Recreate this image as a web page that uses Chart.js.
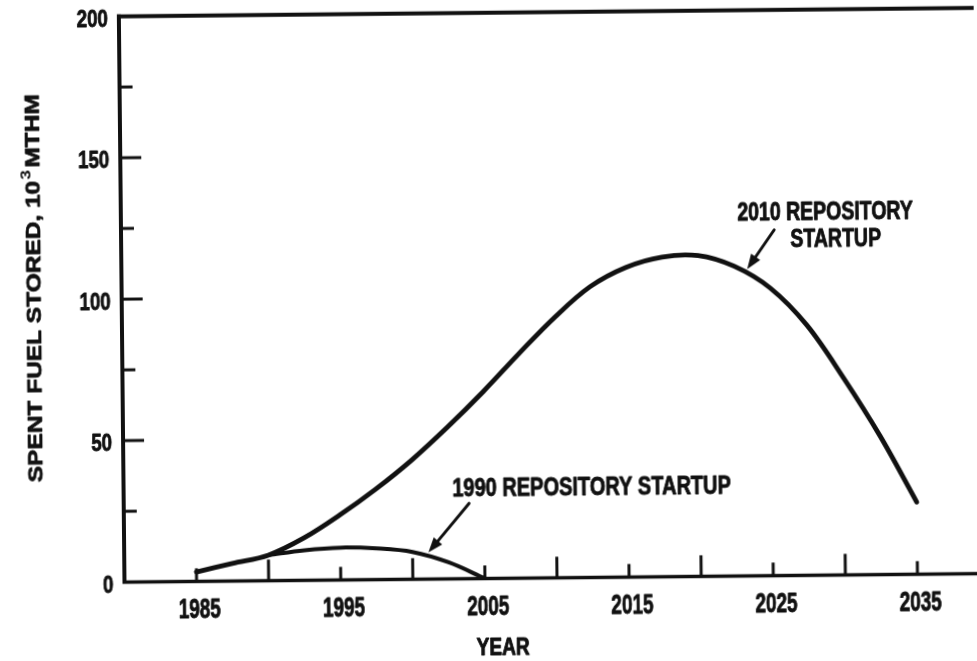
<!DOCTYPE html>
<html>
<head>
<meta charset="utf-8">
<title>Spent fuel stored</title>
<script src="https://cdn.jsdelivr.net/npm/chart.js@4.4.1/dist/chart.umd.min.js"></script>
<style>
  html, body { margin: 0; padding: 0; background: #fff; overflow: hidden; }
  #wrap {
    position: absolute; left: 0; top: 0; width: 977px; height: 661px;
    transform: rotate(-0.57deg); transform-origin: 50% 50%;
  }
  canvas { display: block; }
</style>
</head>
<body>
<div id="wrap"><canvas id="chart" width="977" height="661"></canvas></div>
<script>
// Spent fuel in storage (10^3 MTHM) by year, for two repository startup dates
const years2010 = [1985, 1987.5, 1990, 1992.5, 1995, 1997.5, 2000, 2002.5, 2005, 2007.5,
                   2010, 2012.5, 2015, 2017.5, 2020, 2022.5, 2025, 2027.5, 2030, 2032.5, 2035];
const stored2010 = [3.3, 6.2, 9.0, 15.0, 23.0, 32.0, 42.1, 53.6, 66.0, 79.3,
                    92.0, 102.8, 109.5, 113.0, 113.4, 109.5, 101.6, 88.4, 69.7, 49.0, 25.5];

const years1990 = [1990, 1992.5, 1995, 1997.5, 2000, 2002.5, 2005];
const stored1990 = [9.0, 10.6, 11.4, 11.0, 9.6, 5.8, 0];

// Axis ticks and labels
const xTickYears = [1985, 1990, 1995, 2000, 2005, 2010, 2015, 2020, 2025, 2030, 2035];
const xLabelYears = [1985, 1995, 2005, 2015, 2025, 2035];
const yTickValues = [25, 50, 75, 100, 125, 150, 175];
const yLabelValues = [0, 50, 100, 150, 200];

const xTitle = 'YEAR';
const yTitleMain = 'SPENT FUEL STORED, 10';
const yTitleSup = '3';
const yTitleUnit = 'MTHM';
const note1990 = '1990 REPOSITORY STARTUP';
const note2010 = ['2010 REPOSITORY', 'STARTUP'];

const INK = '#111';
const FAMILY = '"Liberation Sans", Arial, "DejaVu Sans", sans-serif';

function toPoints(xs, ys) {
  return xs.map((x, i) => ({ x: x, y: ys[i] }));
}

// Heavy condensed lettering: bold text squeezed horizontally, lightly outlined
function letter(ctx, text, x, y, size, sx, align, baseline) {
  ctx.save();
  ctx.font = 'bold ' + size + 'px ' + FAMILY;
  ctx.textAlign = align;
  ctx.textBaseline = baseline;
  ctx.fillStyle = INK;
  ctx.strokeStyle = INK;
  ctx.lineWidth = 0.9;
  ctx.lineJoin = 'round';
  ctx.translate(x, y);
  ctx.scale(sx, 1);
  ctx.fillText(text, 0, 0);
  ctx.strokeText(text, 0, 0);
  ctx.restore();
}

function arrow(ctx, x0, y0, x1, y1) {
  const ang = Math.atan2(y1 - y0, x1 - x0);
  const headLen = 15, headHalf = 5.5;
  const bx = x1 - headLen * Math.cos(ang), by = y1 - headLen * Math.sin(ang);
  ctx.save();
  ctx.strokeStyle = INK;
  ctx.fillStyle = INK;
  ctx.lineWidth = 3;
  ctx.lineCap = 'round';
  ctx.beginPath();
  ctx.moveTo(x0, y0);
  ctx.lineTo(bx, by);
  ctx.stroke();
  ctx.beginPath();
  ctx.moveTo(x1, y1);
  ctx.lineTo(bx + headHalf * Math.sin(ang), by - headHalf * Math.cos(ang));
  ctx.lineTo(bx - headHalf * Math.sin(ang), by + headHalf * Math.cos(ang));
  ctx.closePath();
  ctx.fill();
  ctx.restore();
}

const framePlugin = {
  id: 'frame',
  beforeDraw(chart) {
    const ctx = chart.ctx;
    ctx.save();
    ctx.fillStyle = '#fff';
    ctx.fillRect(0, 0, chart.width, chart.height);
    ctx.restore();
  },
  beforeDatasetsDraw(chart) {
    const { ctx, chartArea: a } = chart;
    const px = v => chart.scales.x.getPixelForValue(v);
    const py = v => chart.scales.y.getPixelForValue(v);
    ctx.save();
    ctx.strokeStyle = INK;
    ctx.lineCap = 'butt';

    // frame: left axis, bottom axis, top edge
    ctx.lineWidth = 4;
    ctx.beginPath();
    ctx.moveTo(a.left, a.top - 2);
    ctx.lineTo(a.left, a.bottom + 1.5);
    ctx.stroke();
    ctx.beginPath();
    ctx.moveTo(a.left - 2, a.top);
    ctx.lineTo(chart.width, a.top);
    ctx.stroke();
    ctx.lineWidth = 3.5;
    ctx.beginPath();
    ctx.moveTo(a.left - 2, a.bottom);
    ctx.lineTo(chart.width, a.bottom);
    ctx.stroke();

    // inward tick marks, longer on the decades / every 50
    ctx.lineWidth = 3;
    xTickYears.forEach(yr => {
      const len = yr % 10 === 0 ? 21 : 13;
      const x = px(yr);
      ctx.beginPath();
      ctx.moveTo(x, a.bottom);
      ctx.lineTo(x, a.bottom - len);
      ctx.stroke();
    });
    yTickValues.forEach(v => {
      const len = v % 50 === 0 ? 21 : 13;
      const y = py(v);
      ctx.beginPath();
      ctx.moveTo(a.left, y);
      ctx.lineTo(a.left + len, y);
      ctx.stroke();
    });
    ctx.restore();

    // tick labels
    xLabelYears.forEach(yr => {
      letter(ctx, String(yr), px(yr) + 3, a.bottom + 29, 27, 0.7, 'center', 'middle');
    });
    yLabelValues.forEach(v => {
      letter(ctx, String(v), a.left - 11, py(v) + 3.5, 24, 0.78, 'right', 'middle');
    });

    // axis titles
    letter(ctx, xTitle, a.left + 378, a.bottom + 70, 23, 0.83, 'center', 'middle');

    ctx.save();
    ctx.fillStyle = INK;
    ctx.strokeStyle = INK;
    ctx.lineWidth = 0.7;
    ctx.lineJoin = 'round';
    ctx.translate(a.left - 81, a.top + 271);
    ctx.rotate(-Math.PI / 2);
    ctx.font = 'bold 20px ' + FAMILY;
    const wMain = ctx.measureText(yTitleMain).width;
    const wUnit = ctx.measureText(yTitleUnit).width;
    ctx.font = 'bold 14px ' + FAMILY;
    const wSup = ctx.measureText(yTitleSup).width;
    const total = wMain + wSup + 3 + wUnit;
    ctx.scale(388 / total, 1);
    let x = -total / 2;
    ctx.textBaseline = 'alphabetic';
    ctx.textAlign = 'left';
    ctx.font = 'bold 20px ' + FAMILY;
    ctx.fillText(yTitleMain, x, 0);
    ctx.strokeText(yTitleMain, x, 0);
    x += wMain;
    ctx.font = 'bold 14px ' + FAMILY;
    ctx.fillText(yTitleSup, x + 1, -9);
    x += wSup + 3;
    ctx.font = 'bold 20px ' + FAMILY;
    ctx.fillText(yTitleUnit, x, 0);
    ctx.strokeText(yTitleUnit, x, 0);
    ctx.restore();
  },
  afterDatasetsDraw(chart) {
    const ctx = chart.ctx;
    const px = v => chart.scales.x.getPixelForValue(v);
    const py = v => chart.scales.y.getPixelForValue(v);

    // 1990 startup callout
    letter(ctx, note1990, px(2002.8), py(29.0), 25, 0.80, 'left', 'alphabetic');
    arrow(ctx, px(2003.95), py(26.6), px(2001.1), py(9.4));

    // 2010 startup callout
    letter(ctx, note2010[0], px(2022.75), py(125.5), 25, 0.78, 'left', 'alphabetic');
    letter(ctx, note2010[1], px(2026.42), py(116.1), 25, 0.78, 'left', 'alphabetic');
    arrow(ctx, px(2025.3), py(122.2), px(2023.4), py(108.4));
  }
};

const lineStyle = {
  borderColor: INK,
  pointRadius: 0,
  fill: false,
  tension: 0.35,
  borderCapStyle: 'round',
  borderJoinStyle: 'round'
};

new Chart(document.getElementById('chart').getContext('2d'), {
  type: 'line',
  data: {
    datasets: [
      Object.assign({
        label: '2010 repository startup',
        data: toPoints(years2010, stored2010),
        borderWidth: 4.8
      }, lineStyle),
      Object.assign({
        label: '1990 repository startup',
        data: toPoints(years1990, stored1990),
        borderWidth: 4
      }, lineStyle)
    ]
  },
  options: {
    responsive: false,
    animation: false,
    devicePixelRatio: 1,
    events: [],
    layout: { padding: { left: 122, right: 0, top: 12.7, bottom: 82.6 } },
    plugins: { legend: { display: false }, tooltip: { enabled: false } },
    scales: {
      x: { type: 'linear', min: 1980, max: 2039.3, display: false },
      y: { min: 0, max: 200, display: false }
    }
  },
  plugins: [framePlugin]
});
</script>
</body>
</html>
